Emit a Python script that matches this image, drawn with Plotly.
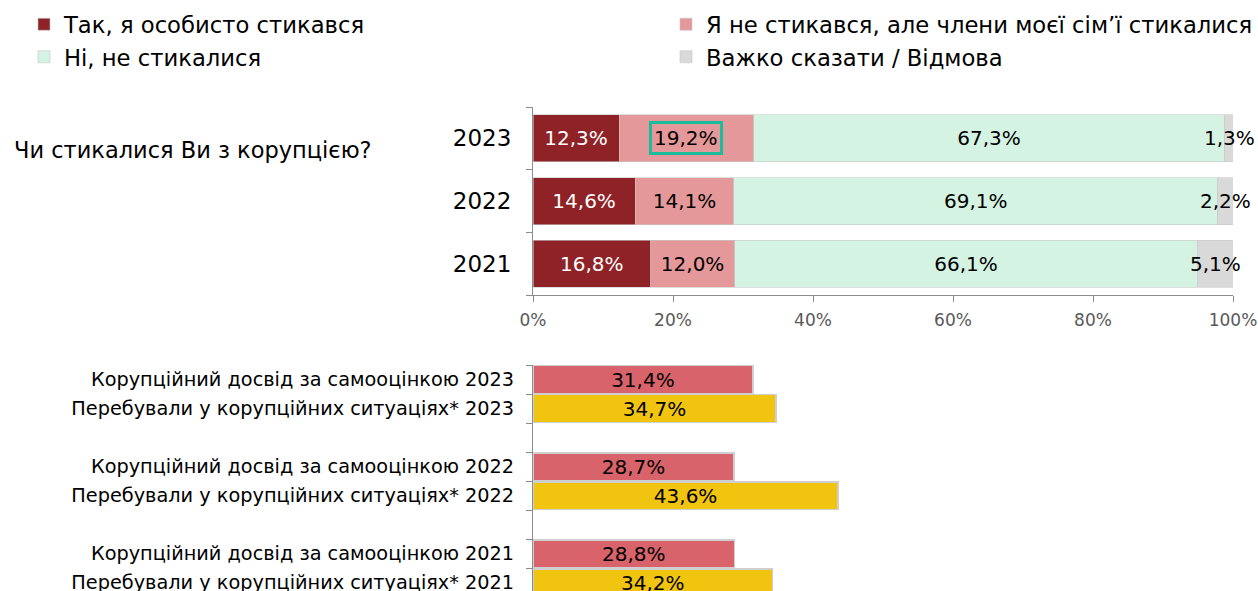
import plotly.graph_objects as go

# top chart data
years = ["2023", "2022", "2021"]
personal = [12.3, 14.6, 16.8]
family = [19.2, 14.1, 12.0]
not_met = [67.3, 69.1, 66.1]
hard_say = [1.3, 2.2, 5.1]

# bottom chart data
exp_years = ["2023", "2022", "2021"]
self_assessed = [31.4, 28.7, 28.8]
situations = [34.7, 43.6, 34.2]

x_ticks = [0, 20, 40, 60, 80, 100]

FONT = "DejaVu Sans"
W, H = 1258, 591


def px(x):
    return x / W


def py(y):
    return 1 - y / H


def pct(v):
    return f"{v:.1f}%".replace(".", ",")


fig = go.Figure()

top_series = [
    ("Так, я особисто стикався", personal, "#8E2226", "white", "legend"),
    ("Я не стикався, але члени моєї сім’ї стикалися", family, "#E5989A", "black", "legend2"),
    ("Ні, не стикалися", not_met, "#D5F3E3", "black", "legend"),
    ("Важко сказати / Відмова", hard_say, "#D9D9D9", "black", "legend2"),
]

for name, vals, color, tcolor, leg in top_series:
    texts = [pct(v) for v in vals]
    if vals is family:
        texts[0] = ""  # drawn as a boxed annotation below
    if vals is hard_say:
        texts = ["" for v in vals]  # too narrow, drawn as annotations below
    fig.add_trace(go.Bar(
        y=years, x=vals, orientation="h", name=name, legend=leg,
        marker=dict(color=color, line=dict(color="#C8C8C8", width=0.6)),
        text=texts, textposition="inside", insidetextanchor="middle",
        textangle=0, constraintext="none",
        textfont=dict(color=tcolor, size=20, family=FONT),
        xaxis="x", yaxis="y", hoverinfo="skip",
    ))

# category axis -> annotations use the index of the category
cat_top = years[::-1]

# highlighted value
fig.add_annotation(
    x=personal[0] + family[0] / 2, y=cat_top.index(years[0]), xref="x", yref="y",
    text=pct(family[0]), showarrow=False,
    font=dict(size=20, color="black", family=FONT),
    bordercolor="#1ABC9C", borderwidth=3, borderpad=2,
)

# labels of the narrow grey segments, centred on the segment
for i, yr in enumerate(years):
    start = personal[i] + family[i] + not_met[i]
    fig.add_annotation(
        x=start + hard_say[i] / 2, y=cat_top.index(yr), xref="x", yref="y",
        text=pct(hard_say[i]), showarrow=False,
        font=dict(size=20, color="black", family=FONT),
    )

# bottom chart
lab_self = [f"Корупційний досвід за самооцінкою {y}" for y in exp_years]
lab_sit = [f"Перебували у корупційних ситуаціях* {y}" for y in exp_years]
gaps = [" ", "  "]
cat_order = [lab_self[0], lab_sit[0], gaps[0], lab_self[1], lab_sit[1], gaps[1], lab_self[2], lab_sit[2]]

for labels, vals, color in [(lab_self, self_assessed, "#D9636A"), (lab_sit, situations, "#F1C40F")]:
    fig.add_trace(go.Bar(
        y=labels, x=vals, orientation="h", showlegend=False, width=0.95,
        marker=dict(color=color, line=dict(color="#CFCFCF", width=1.5)),
        text=[pct(v) for v in vals], textposition="inside", insidetextanchor="middle",
        textangle=0, constraintext="none",
        textfont=dict(color="black", size=20, family=FONT),
        xaxis="x2", yaxis="y2", hoverinfo="skip",
    ))

fig.add_annotation(
    x=px(12), y=py(150), xref="paper", yref="paper", text="Чи стикалися Ви з корупцією?",
    showarrow=False, xanchor="left", yanchor="middle",
    font=dict(size=22.5, color="black", family=FONT),
)

legend_style = dict(
    orientation="v", yanchor="top", traceorder="normal",
    font=dict(size=22.7, family=FONT), bgcolor="rgba(0,0,0,0)",
)

fig.update_layout(
    width=W, height=H, autosize=False,
    margin=dict(l=0, r=0, t=0, b=0),
    plot_bgcolor="white", paper_bgcolor="white",
    barmode="stack", bargap=0.25,
    font=dict(family=FONT, color="black"),
    legend=dict(x=px(24), xanchor="left", y=py(3), **legend_style),
    legend2=dict(x=1, xanchor="right", y=py(3), **legend_style),
    xaxis=dict(
        domain=[px(533), px(1233)], range=[0, 100], anchor="y", automargin=False,
        tickvals=x_ticks, ticktext=[f"{t}%" for t in x_ticks],
        showgrid=False, zeroline=False, showline=True, linecolor="#8C8C8C",
        ticks="outside", ticklen=6, tickcolor="#8C8C8C", ticklabelstandoff=4,
        tickfont=dict(size=17, color="#595959", family=FONT),
    ),
    yaxis=dict(
        domain=[py(295), py(107)], anchor="x", automargin=False,
        type="category", categoryorder="array", categoryarray=cat_top,
        range=[-0.5, 2.5],
        showgrid=False, showline=True, linecolor="#8C8C8C",
        ticks="outside", ticklen=6, tickcolor="#8C8C8C", tickson="boundaries",
        ticklabelstandoff=16,
        tickfont=dict(size=23, color="black", family=FONT),
    ),
    xaxis2=dict(
        domain=[px(533), px(1233)], range=[0, 100], anchor="y2", automargin=False,
        visible=False,
    ),
    yaxis2=dict(
        domain=[0, py(365)], anchor="x2", automargin=False,
        type="category", categoryorder="array", categoryarray=cat_order,
        range=[7.29, -0.5],
        showgrid=False, showline=True, linecolor="#8C8C8C",
        ticks="outside", ticklen=6, tickcolor="#8C8C8C", tickson="boundaries",
        ticklabelstandoff=14,
        tickfont=dict(size=19.3, color="black", family=FONT),
    ),
)

# the page's default body margin would push the figure 8px off the window
fig.write_html(
    "out.html",
    config={"responsive": False, "displayModeBar": False},
    post_script="document.body.style.margin='0';",
)
